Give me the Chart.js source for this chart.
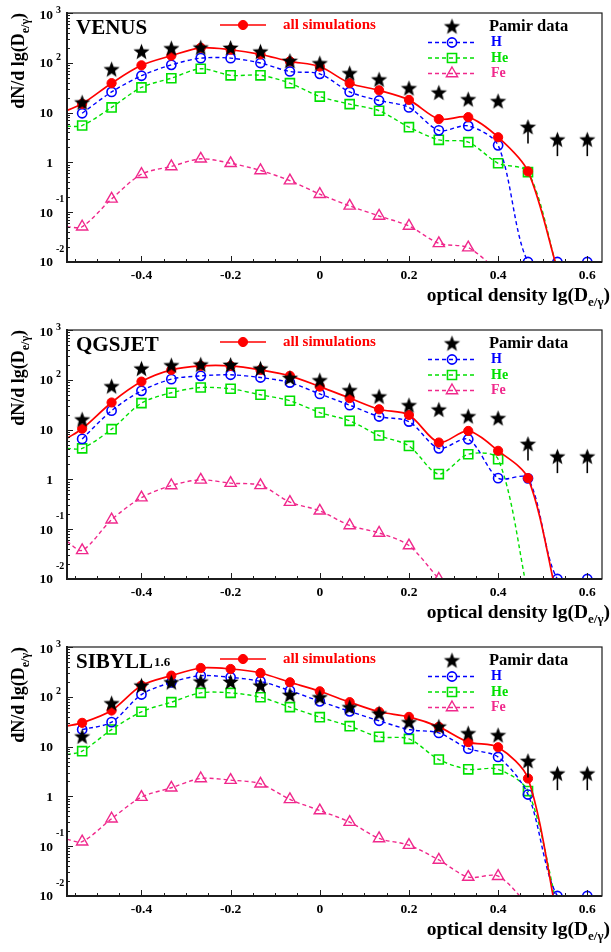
<!DOCTYPE html>
<html>
<head>
<meta charset="utf-8">
<title>Optical density spectra: Pamir data vs. simulations</title>
<script src="https://cdn.jsdelivr.net/npm/chart.js@4.4.1/dist/chart.umd.min.js"></script>
<style>
  html, body { margin: 0; padding: 0; background: #ffffff; }
  .panel { position: relative; width: 611px; }
  canvas { display: block; }
</style>
</head>
<body>
<div class="panel"><canvas id="venus" width="611" height="317"></canvas></div>
<div class="panel"><canvas id="qgsjet" width="611" height="317"></canvas></div>
<div class="panel"><canvas id="sibyll" width="611" height="318"></canvas></div>
<script>
// Bin centres in optical density lg(D_e/gamma)
const lgD = [-0.533, -0.467, -0.4, -0.333, -0.267, -0.2, -0.133, -0.067, 0, 0.067, 0.133, 0.2, 0.267, 0.333, 0.4, 0.467, 0.533, 0.6];
const xRange = [-0.567, 0.633];
const yRange = [0.01, 1000];

// Pamir experimental spectrum (shown in every panel); last points are lower limits
const pamirData = [15.5, 72, 163, 190, 197, 194, 163, 106, 95, 60, 45, 30, 24.5, 18, 16.5, 5, 2.8, 2.8];
const pamirLowerLimit = [false, false, false, false, false, false, false, false, false, false, false, false, false, false, false, true, true, true];

// VENUS
const venusAll = [15, 39, 89, 139, 200, 183, 148, 107, 84, 39, 28, 18, 7.4, 8.1, 3.2, 0.66, 0.007, null];
const venusH   = [9.7, 26, 55, 91, 124, 124, 99, 67, 60, 26, 17.5, 12.7, 4.4, 5.4, 2.2, 0.01, 0.01, 0.01];
const venusHe  = [5.5, 12.7, 32, 49, 76, 56, 56, 39, 21, 14.8, 10.9, 5.1, 2.84, 2.55, 0.96, 0.64, 0.007, null];
const venusFe  = [0.051, 0.185, 0.58, 0.83, 1.18, 0.96, 0.69, 0.43, 0.23, 0.134, 0.084, 0.053, 0.0237, 0.0194, 0.0065, null, null, null];
// curve values at the left frame edge: [all, H, He, Fe]
const venusEdge = [11, null, 5.3, 0.051];

// QGSJET
const qgsjetAll = [10.4, 35, 92, 158, 190, 190, 158, 120, 73, 43, 25.6, 19.7, 5.5, 9.4, 3.75, 1.06, 0.004, null];
const qgsjetH   = [6.5, 24, 60, 103, 120, 126, 111, 88, 52, 31, 18.3, 14.5, 4.2, 6.4, 1.06, 1.05, 0.01, 0.01];
const qgsjetHe  = [4.2, 10.2, 34, 55, 70, 66, 50, 38, 22, 15, 7.6, 4.7, 1.28, 3.2, 2.55, 0.005, null, null];
const qgsjetFe  = [0.0376, 0.155, 0.43, 0.755, 0.98, 0.84, 0.76, 0.35, 0.234, 0.119, 0.084, 0.047, 0.01, null, null, null, null, null];
const qgsjetEdge = [6.7, null, 4.2, 0.057];

// SIBYLL 1.6
const sibyllAll = [30, 53, 168, 266, 379, 362, 301, 196, 129, 78, 50, 39.5, 24.9, 12.3, 9.7, 2.29, 0.0035, null];
const sibyllH   = [22, 31, 111, 195, 266, 246, 204, 133, 81, 51, 33, 22, 18.8, 9.1, 6.2, 1.09, 0.01, 0.01];
const sibyllHe  = [8.1, 22, 50, 78, 120, 120, 98, 62, 39, 25.7, 15.7, 14.3, 5.5, 3.5, 3.5, 1.28, 0.006, null];
const sibyllFe  = [0.123, 0.356, 0.966, 1.49, 2.29, 2.12, 1.79, 0.87, 0.52, 0.305, 0.143, 0.105, 0.053, 0.024, 0.025, 0.0066, null, null];
const sibyllEdge = [26, null, 6.9, 0.137];

// Axis ticks and labels
const xMajorTicks = [-0.4, -0.2, 0, 0.2, 0.4, 0.6];
const xTickLabels = ['-0.4', '-0.2', '0', '0.2', '0.4', '0.6'];
const xMinorTicks = [-0.55, -0.5, -0.45, -0.35, -0.3, -0.25, -0.15, -0.1, -0.05, 0.05, 0.1, 0.15, 0.25, 0.3, 0.35, 0.45, 0.5, 0.55];
const yMajorTicks = [1000, 100, 10, 1, 0.1, 0.01];
const yTickBases = ['10', '10', '10', '1', '10', '10'];
const yTickExponents = ['3', '2', '', '', '-1', '-2'];

const seriesNames = ['all simulations', 'H', 'He', 'Fe'];
const dataName = 'Pamir data';

const COLORS = { all: '#ff0000', h: '#0000ff', he: '#00e000', fe: '#f0288c', data: '#000000' };
const SERIF = '"Liberation Serif", "Times New Roman", serif';
const bold = px => 'bold ' + px + 'px ' + SERIF;

// filled five-pointed star used for the measured points
function makeStar(R, r) {
  const s = Math.ceil(2 * R + 2);
  const c = document.createElement('canvas');
  c.width = s; c.height = s;
  const g = c.getContext('2d');
  g.translate(s / 2, s / 2);
  g.beginPath();
  for (let k = 0; k < 10; k++) {
    const rad = k % 2 === 0 ? R : r;
    const ang = -Math.PI / 2 + k * Math.PI / 5;
    const px = rad * Math.cos(ang), py = rad * Math.sin(ang);
    if (k === 0) g.moveTo(px, py); else g.lineTo(px, py);
  }
  g.closePath();
  g.fillStyle = '#000';
  g.fill();
  return c;
}
const starImage = makeStar(8.5, 3.6);

function series(values, edgeValue) {
  const pts = [];
  if (edgeValue != null) pts.push({ x: xRange[0], y: edgeValue, edge: true });
  values.forEach((v, i) => { if (v != null) pts.push({ x: lgD[i], y: v }); });
  return pts;
}
function markerRadius(r) {
  return c => (c.raw && (c.raw.edge || c.raw.y < yRange[0])) ? 0 : r;
}

function drawMarker(ctx, ds, x, y) {
  const style = ds.pointStyle;
  if (typeof style !== 'string') {
    ctx.drawImage(style, x - style.width / 2, y - style.height / 2);
    return;
  }
  const r = ds.markerSize;
  ctx.save();
  ctx.setLineDash([]);
  ctx.lineWidth = ds.pointBorderWidth;
  ctx.strokeStyle = ds.pointBorderColor;
  ctx.fillStyle = ds.pointBackgroundColor;
  ctx.beginPath();
  if (style === 'circle') {
    ctx.arc(x, y, r, 0, 2 * Math.PI);
  } else if (style === 'rect') {
    const h = r * Math.SQRT1_2;
    ctx.rect(x - h, y - h, 2 * h, 2 * h);
  } else if (style === 'triangle') {
    for (let k = 0; k < 3; k++) {
      const a = k * 2 * Math.PI / 3;
      const px = x + Math.sin(a) * r, py = y - Math.cos(a) * r;
      if (k === 0) ctx.moveTo(px, py); else ctx.lineTo(px, py);
    }
    ctx.closePath();
  }
  ctx.fill();
  ctx.stroke();
  ctx.restore();
}

// text made of pieces with their own size and vertical shift
function pieceWidth(ctx, parts) {
  let w = 0;
  parts.forEach(p => { ctx.font = bold(p.size); w += ctx.measureText(p.t).width; });
  return w;
}
function drawPieces(ctx, parts, x, y) {
  ctx.textAlign = 'left';
  ctx.textBaseline = 'alphabetic';
  parts.forEach(p => {
    ctx.font = bold(p.size);
    ctx.fillText(p.t, x, y + (p.dy || 0));
    x += ctx.measureText(p.t).width;
  });
}

function line(ctx, x1, y1, x2, y2) {
  ctx.beginPath(); ctx.moveTo(x1, y1); ctx.lineTo(x2, y2); ctx.stroke();
}

const panelDecor = {
  id: 'panelDecor',
  afterDatasetsDraw(chart, args, opts) {
    const ctx = chart.ctx;
    const a = chart.chartArea;
    const xs = chart.scales.x, ys = chart.scales.y;
    const sets = chart.data.datasets;
    ctx.save();

    // lower-limit bars under the measured points
    ctx.strokeStyle = '#000';
    ctx.lineWidth = 1.6;
    chart.getDatasetMeta(0).data.forEach((el, i) => {
      if (sets[0].data[i].limit) line(ctx, el.x, el.y, el.x, el.y + 16);
    });

    // frame
    ctx.strokeStyle = '#1c1c1c';
    ctx.lineWidth = 1.2;
    ctx.strokeRect(a.left, a.top, a.right - a.left, a.bottom - a.top);
    ctx.lineWidth = 2;
    line(ctx, a.left, a.top - 1, a.left, a.bottom + 1);
    line(ctx, a.left - 1, a.bottom, a.right, a.bottom);

    // y ticks (log, inward)
    ctx.lineWidth = 1;
    yMajorTicks.forEach(v => {
      const py = Math.round(ys.getPixelForValue(v)) + 0.5;
      line(ctx, a.left, py, a.left + 6, py);
      if (v < yRange[1]) {
        for (let k = 2; k <= 9; k++) {
          const my = Math.round(ys.getPixelForValue(v * k)) + 0.5;
          line(ctx, a.left, my, a.left + 3, my);
        }
      }
    });
    // x ticks
    xMajorTicks.forEach(v => {
      const px = Math.round(xs.getPixelForValue(v)) + 0.5;
      line(ctx, px, a.bottom, px, a.bottom - 6);
    });
    xMinorTicks.forEach(v => {
      const px = Math.round(xs.getPixelForValue(v)) + 0.5;
      line(ctx, px, a.bottom, px, a.bottom - 3);
    });

    // tick labels
    ctx.fillStyle = '#000';
    ctx.font = bold(13.5);
    ctx.textAlign = 'center';
    ctx.textBaseline = 'middle';
    xMajorTicks.forEach((v, i) => {
      ctx.fillText(xTickLabels[i], xs.getPixelForValue(v), a.bottom + 14);
    });
    yMajorTicks.forEach((v, i) => {
      const py = ys.getPixelForValue(v) + (i === 0 ? 3 : 1);
      ctx.font = bold(13.5);
      ctx.textAlign = 'right';
      ctx.textBaseline = 'middle';
      ctx.fillText(yTickBases[i], 53, py);
      const e = yTickExponents[i];
      if (e) {
        ctx.font = bold(10);
        ctx.textAlign = 'left';
        ctx.fillText(e, 56, py - (e.charAt(0) === '-' ? 14 : 6));
      }
    });

    // axis titles
    const xTitle = [{ t: 'optical density lg(D', size: 19.5 }, { t: 'e/\u03b3', size: 13, dy: 5 }, { t: ')', size: 19.5 }];
    const wx = pieceWidth(ctx, xTitle);
    drawPieces(ctx, xTitle, 610 - wx, a.bottom + 39);

    const yTitle = [{ t: 'dN/d lg(D', size: 18 }, { t: 'e/\u03b3', size: 12, dy: 5 }, { t: ')', size: 18 }];
    const wy = pieceWidth(ctx, yTitle);
    ctx.save();
    ctx.translate(24, a.top + wy);
    ctx.rotate(-Math.PI / 2);
    drawPieces(ctx, yTitle, 0, 0);
    ctx.restore();

    // model name
    ctx.fillStyle = '#000';
    ctx.font = bold(21);
    ctx.textAlign = 'left';
    ctx.textBaseline = 'alphabetic';
    ctx.fillText(opts.title, 76, a.top + 21);
    if (opts.sup) {
      const tw = ctx.measureText(opts.title).width;
      ctx.font = bold(13);
      ctx.fillText(opts.sup, 76 + tw + 1, a.top + 19);
    }

    // legend: all simulations
    const all = sets[1];
    const ly = a.top + 12;
    ctx.strokeStyle = all.borderColor;
    ctx.lineWidth = all.borderWidth;
    line(ctx, 220, ly, 266, ly);
    drawMarker(ctx, all, 243, ly);
    ctx.fillStyle = all.borderColor;
    ctx.font = bold(15);
    ctx.textBaseline = 'middle';
    ctx.fillText(all.label, 283, ly);

    // legend: data and components
    drawMarker(ctx, sets[0], 452, a.top + 14);
    ctx.fillStyle = '#000';
    ctx.font = bold(16.5);
    ctx.fillText(sets[0].label, 489, a.top + 14);
    [2, 3, 4].forEach((di, k) => {
      const ds = sets[di];
      const yy = a.top + 29.5 + k * 15.5;
      ctx.save();
      ctx.strokeStyle = ds.borderColor;
      ctx.lineWidth = ds.borderWidth;
      ctx.setLineDash(ds.borderDash);
      line(ctx, 428, yy, 476, yy);
      ctx.restore();
      drawMarker(ctx, ds, 452, yy);
      ctx.fillStyle = ds.borderColor;
      ctx.font = bold(14);
      ctx.textBaseline = 'middle';
      ctx.fillText(ds.label, 491, yy);
    });
    ctx.restore();
  }
};

function makePanel(id, title, sup, all, h, he, fe, edge) {
  const canvas = document.getElementById(id);
  const H = canvas.height;
  const dash = [4, 3];
  return new Chart(canvas, {
    type: 'line',
    data: {
      datasets: [
        {
          label: dataName,
          data: pamirData.map((v, i) => ({ x: lgD[i], y: v, limit: pamirLowerLimit[i] })),
          showLine: false,
          pointStyle: starImage,
          pointRadius: 8,
          order: 0
        },
        {
          label: seriesNames[0],
          data: series(all, edge[0]),
          borderColor: COLORS.all, borderWidth: 1.7, tension: 0.3,
          pointStyle: 'circle', markerSize: 4.6, pointRadius: markerRadius(4.6),
          pointBackgroundColor: COLORS.all, pointBorderColor: COLORS.all, pointBorderWidth: 1,
          order: 1
        },
        {
          label: seriesNames[1],
          data: series(h, edge[1]),
          borderColor: COLORS.h, borderWidth: 1.4, borderDash: dash, tension: 0.3,
          pointStyle: 'circle', markerSize: 4.6, pointRadius: markerRadius(4.6),
          pointBackgroundColor: 'rgba(255,255,255,0)', pointBorderColor: COLORS.h, pointBorderWidth: 1.6,
          order: 2
        },
        {
          label: seriesNames[2],
          data: series(he, edge[2]),
          borderColor: COLORS.he, borderWidth: 1.4, borderDash: dash, tension: 0.3,
          pointStyle: 'rect', markerSize: 6.4, pointRadius: markerRadius(6.4),
          pointBackgroundColor: 'rgba(255,255,255,0)', pointBorderColor: COLORS.he, pointBorderWidth: 1.6,
          order: 3
        },
        {
          label: seriesNames[3],
          data: series(fe, edge[3]),
          borderColor: COLORS.fe, borderWidth: 1.4, borderDash: dash, tension: 0.3,
          pointStyle: 'triangle', markerSize: 6.5, pointRadius: markerRadius(6.5),
          pointBackgroundColor: 'rgba(255,255,255,0)', pointBorderColor: COLORS.fe, pointBorderWidth: 1.4,
          order: 4
        }
      ]
    },
    options: {
      responsive: false,
      animation: false,
      devicePixelRatio: 1,
      events: [],
      layout: { padding: { left: 67, right: 1, top: 13, bottom: H - 262 } },
      scales: {
        x: { type: 'linear', min: xRange[0], max: xRange[1], display: false },
        y: { type: 'logarithmic', min: yRange[0], max: yRange[1], display: false }
      },
      plugins: {
        legend: { display: false },
        tooltip: { enabled: false },
        panelDecor: { title: title, sup: sup }
      }
    },
    plugins: [panelDecor]
  });
}

makePanel('venus', 'VENUS', '', venusAll, venusH, venusHe, venusFe, venusEdge);
makePanel('qgsjet', 'QGSJET', '', qgsjetAll, qgsjetH, qgsjetHe, qgsjetFe, qgsjetEdge);
makePanel('sibyll', 'SIBYLL', '1.6', sibyllAll, sibyllH, sibyllHe, sibyllFe, sibyllEdge);
</script>
</body>
</html>
